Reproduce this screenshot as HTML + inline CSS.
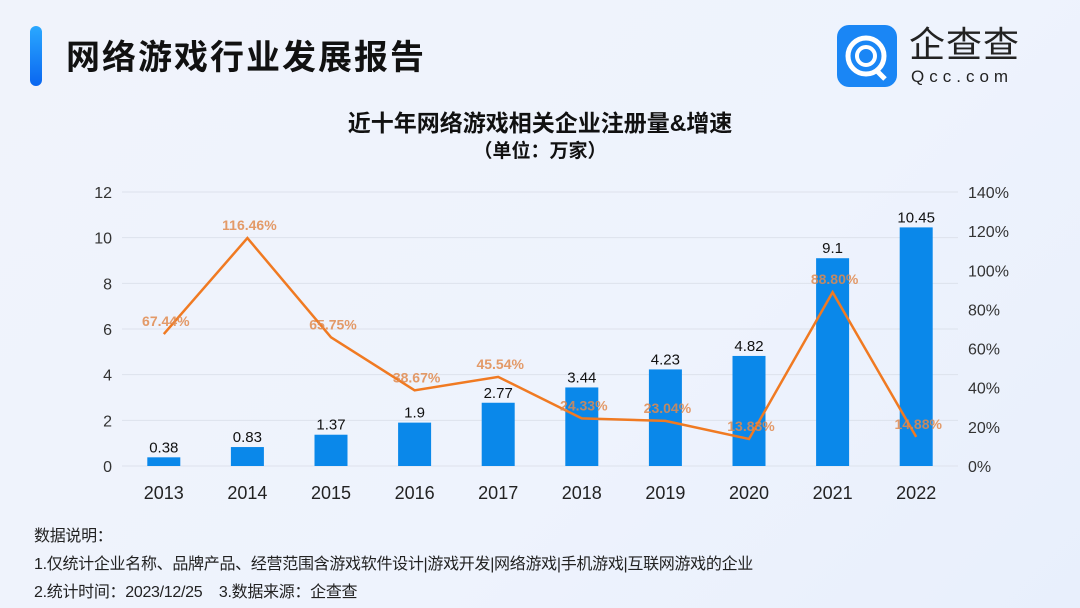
<!DOCTYPE html>
<html><head><meta charset="utf-8">
<style>
body{margin:0;width:1080px;height:608px;overflow:hidden;background:linear-gradient(135deg,#f0f3fb 0%,#eef3fd 60%,#e8effc 100%);font-family:"Liberation Sans","Noto Sans CJK SC",sans-serif;position:relative}
.a{position:absolute}
</style></head><body>
<div class="a" style="left:30px;top:26px;width:12px;height:60px;border-radius:6px;background:linear-gradient(#2aa8ff,#0a66f0)"></div>
<div class="a" style="left:66px;top:30px;font-size:34px;font-weight:bold;color:#111;letter-spacing:2px">网络游戏行业发展报告</div>
<div class="a" style="left:837px;top:25px;width:210px;height:62px">
 <svg width="62" height="62" style="position:absolute;left:0;top:0"><rect x="0" y="0" width="60" height="62" rx="12" fill="#1a86f5"/><circle cx="29" cy="31" r="18" fill="none" stroke="#fff" stroke-width="5"/><circle cx="29" cy="31" r="9" fill="none" stroke="#fff" stroke-width="4"/><path d="M38 44 L48 54" stroke="#fff" stroke-width="5"/></svg>
 <div class="a" style="left:72px;top:0px;font-size:36px;color:#222;letter-spacing:1px;line-height:40px">企查查</div>
 <div class="a" style="left:74px;top:42px;font-size:17px;color:#222;letter-spacing:5px;line-height:20px">Qcc.com</div>
</div>
<div class="a" style="left:0;width:1080px;top:104px;text-align:center;font-size:23px;font-weight:bold;color:#111">近十年网络游戏相关企业注册量&amp;增速</div>
<div class="a" style="left:0;width:1080px;top:136px;text-align:center;font-size:19px;font-weight:bold;color:#111">（单位：万家）</div>
<svg class="a" style="left:0;top:0" width="1080" height="608" id="chart"></svg>
<div class="a" style="left:34px;top:523px;font-size:16px;color:#222;line-height:28px;letter-spacing:-0.3px">数据说明：<br>1.仅统计企业名称、品牌产品、经营范围含游戏软件设计|游戏开发|网络游戏|手机游戏|互联网游戏的企业<br>2.统计时间：2023/12/25&nbsp;&nbsp;&nbsp; 3.数据来源：企查查</div>
<script>
const years=["2013","2014","2015","2016","2017","2018","2019","2020","2021","2022"];
const counts=[0.38,0.83,1.37,1.9,2.77,3.44,4.23,4.82,9.1,10.45];
const growth=[67.44,116.46,65.75,38.67,45.54,24.33,23.04,13.83,88.80,14.88];
const leftTicks=[0,2,4,6,8,10,12];
const rightTicks=[0,20,40,60,80,100,120,140];
const NS="http://www.w3.org/2000/svg";
const svg=document.getElementById('chart');
const x0=122,x1=958,yB=466,yT=192;
const step=(x1-x0)/years.length;
const xc=i=>x0+step*(i+0.5);
const yl=v=>yB-(v/12)*(yB-yT);
const yr=v=>yB-(v/140)*(yB-yT);
function mk(t,a){const e=document.createElementNS(NS,t);for(const k in a)e.setAttribute(k,a[k]);svg.appendChild(e);return e;}
leftTicks.forEach(v=>{
 const g=mk('line',{x1:x0,x2:x1,y1:yl(v),y2:yl(v),stroke:'#dde2ec','stroke-width':1});
 
 
 const t=mk('text',{x:112,y:yl(v)+6,'text-anchor':'end','font-size':16,fill:'#333'});t.textContent=v;
 
 
});
rightTicks.forEach(v=>{
 const t=mk('text',{x:968,y:yr(v)+6,'font-size':16,fill:'#333'});t.textContent=v+'%';
 
 
});
const bw=33;
years.forEach((y,i)=>{
 const b=mk('rect',{x:xc(i)-bw/2,y:yl(counts[i]),width:bw,height:yB-yl(counts[i]),fill:'#0a88ea'});
 
 
 const l=mk('text',{x:xc(i),y:yl(counts[i])-5,'text-anchor':'middle','font-size':15,fill:'#111'});l.textContent=counts[i];
 
 
 const xt=mk('text',{x:xc(i),y:499,'text-anchor':'middle','font-size':18,fill:'#222'});xt.textContent=y;
 
 
});
const pts=growth.map((g,i)=>xc(i)+','+yr(g)).join(' ');
const pl=mk('polyline',{points:pts,fill:'none',stroke:'#f07a22','stroke-width':2.5});


growth.forEach((g,i)=>{
 const t=mk('text',{x:xc(i)+2,y:yr(g)-8,'text-anchor':'middle','font-size':14,fill:'#e08a4e','font-weight':'bold','fill-opacity':0.85});t.textContent=g.toFixed(2)+'%';
 
 
});
</script>
</body></html>
